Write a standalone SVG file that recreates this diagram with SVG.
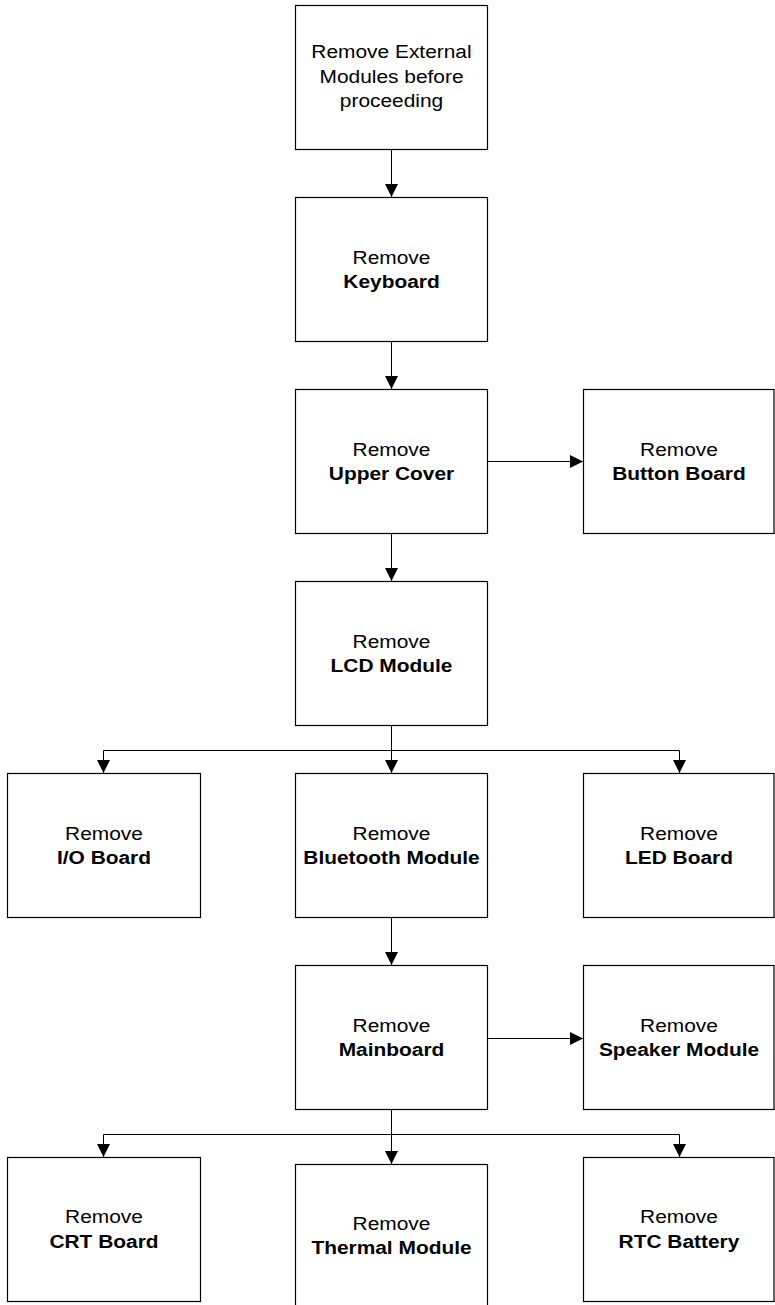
<svg xmlns="http://www.w3.org/2000/svg" width="775" height="1305" viewBox="0 0 775 1305">
<style>
.box{fill:#fff;stroke:#000;stroke-width:1.2}
.t{font-family:"Liberation Sans",Arial,sans-serif;font-size:19px;fill:#000;text-anchor:middle}
.b{font-weight:bold}
.c{fill:none;stroke:#000;stroke-width:1}
</style>
<defs>
<marker id="ah" viewBox="0 0 13 13" refX="13" refY="6.5" markerWidth="13" markerHeight="13" markerUnits="userSpaceOnUse" orient="auto">
<path d="M0,0 L13,6.5 L0,13 Z" fill="#000"/>
</marker>
</defs>
<rect width="775" height="1305" fill="#fff"/>
<g id="connectors">
<path class="c" d="M391.5,149.5 V197" marker-end="url(#ah)"/>
<path class="c" d="M391.5,341.5 V389" marker-end="url(#ah)"/>
<path class="c" d="M487.5,461.5 H583" marker-end="url(#ah)"/>
<path class="c" d="M391.5,533.5 V581" marker-end="url(#ah)"/>
<path class="c" d="M391.5,718 V773" marker-end="url(#ah)"/>
<path class="c" d="M103.5,773 V750.5 H679.5 V773"/>
<path class="c" d="M103.5,760 V773" marker-end="url(#ah)"/>
<path class="c" d="M679.5,760 V773" marker-end="url(#ah)"/>
<path class="c" d="M391.5,917.5 V965" marker-end="url(#ah)"/>
<path class="c" d="M487.5,1038.5 H583" marker-end="url(#ah)"/>
<path class="c" d="M391.5,1107 V1164" marker-end="url(#ah)"/>
<path class="c" d="M103.5,1157 V1134.5 H679.5 V1157"/>
<path class="c" d="M103.5,1145 V1157" marker-end="url(#ah)"/>
<path class="c" d="M679.5,1145 V1157" marker-end="url(#ah)"/>
</g>
<g id="n1">
<rect class="box" x="295.5" y="5.5" width="192" height="144"/>
<text class="t" transform="translate(391.5 0) scale(1.1 1)"><tspan x="0" y="58.5">Remove External</tspan><tspan x="0" y="83">Modules before</tspan><tspan x="0" y="107.5">proceeding</tspan></text>
</g>
<g id="n2">
<rect class="box" x="295.5" y="197.5" width="192" height="144"/>
<text class="t" transform="translate(391.5 0) scale(1.1 1)"><tspan x="0" y="264">Remove</tspan><tspan class="b" x="0" y="288.5">Keyboard</tspan></text>
</g>
<g id="n3">
<rect class="box" x="295.5" y="389.5" width="192" height="144"/>
<text class="t" transform="translate(391.5 0) scale(1.1 1)"><tspan x="0" y="456">Remove</tspan><tspan class="b" x="0" y="480.5">Upper Cover</tspan></text>
</g>
<g id="n3b">
<rect class="box" x="583.5" y="389.5" width="190.5" height="144"/>
<text class="t" transform="translate(679 0) scale(1.1 1)"><tspan x="0" y="456">Remove</tspan><tspan class="b" x="0" y="480.5">Button Board</tspan></text>
</g>
<g id="n4">
<rect class="box" x="295.5" y="581.5" width="192" height="144"/>
<text class="t" transform="translate(391.5 0) scale(1.1 1)"><tspan x="0" y="648">Remove</tspan><tspan class="b" x="0" y="672.5">LCD Module</tspan></text>
</g>
<g id="n5a">
<rect class="box" x="7.5" y="773.5" width="193" height="144"/>
<text class="t" transform="translate(104 0) scale(1.1 1)"><tspan x="0" y="840">Remove</tspan><tspan class="b" x="0" y="864.5">I/O Board</tspan></text>
</g>
<g id="n5b">
<rect class="box" x="295.5" y="773.5" width="192" height="144"/>
<text class="t" transform="translate(391.5 0) scale(1.1 1)"><tspan x="0" y="840">Remove</tspan><tspan class="b" x="0" y="864.5">Bluetooth Module</tspan></text>
</g>
<g id="n5c">
<rect class="box" x="583.5" y="773.5" width="190.5" height="144"/>
<text class="t" transform="translate(679 0) scale(1.1 1)"><tspan x="0" y="840">Remove</tspan><tspan class="b" x="0" y="864.5">LED Board</tspan></text>
</g>
<g id="n6">
<rect class="box" x="295.5" y="965.5" width="192" height="144"/>
<text class="t" transform="translate(391.5 0) scale(1.1 1)"><tspan x="0" y="1032">Remove</tspan><tspan class="b" x="0" y="1056.5">Mainboard</tspan></text>
</g>
<g id="n6b">
<rect class="box" x="583.5" y="965.5" width="190.5" height="144"/>
<text class="t" transform="translate(679 0) scale(1.1 1)"><tspan x="0" y="1032">Remove</tspan><tspan class="b" x="0" y="1056.5">Speaker Module</tspan></text>
</g>
<g id="n7a">
<rect class="box" x="7.5" y="1157.5" width="193" height="144"/>
<text class="t" transform="translate(104 0) scale(1.1 1)"><tspan x="0" y="1223.5">Remove</tspan><tspan class="b" x="0" y="1248">CRT Board</tspan></text>
</g>
<g id="n7b">
<rect class="box" x="295.5" y="1164.5" width="192" height="144"/>
<text class="t" transform="translate(391.5 0) scale(1.1 1)"><tspan x="0" y="1230">Remove</tspan><tspan class="b" x="0" y="1254.5">Thermal Module</tspan></text>
</g>
<g id="n7c">
<rect class="box" x="583.5" y="1157.5" width="190.5" height="144"/>
<text class="t" transform="translate(679 0) scale(1.1 1)"><tspan x="0" y="1223.5">Remove</tspan><tspan class="b" x="0" y="1248">RTC Battery</tspan></text>
</g>
</svg>
